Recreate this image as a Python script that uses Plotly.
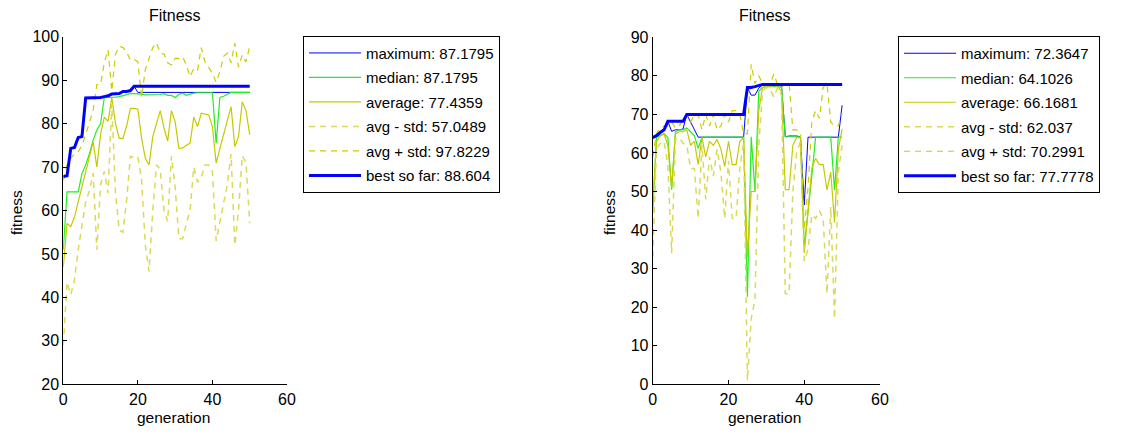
import plotly.graph_objects as go

gen = list(range(51))

# ---------------- left run ----------------
L_max = [67.8, 68.0, 74.3, 74.5, 76.8, 77.0, 85.9, 85.9, 85.9, 85.9,
         86.0, 86.2, 86.4, 86.8, 86.8, 86.9, 87.4, 87.4, 87.6, 88.604,
         87.1795, 87.1795, 87.1795, 87.1795, 87.1795, 87.1795, 87.1795, 87.1795, 87.1795, 87.1795,
         87.1795, 87.1795, 87.1795, 87.1795, 87.1795, 87.1795, 87.1795, 87.1795, 87.1795, 87.1795,
         87.1795, 87.1795, 87.1795, 87.1795, 87.1795, 87.1795, 87.1795, 87.1795, 87.1795, 87.1795, 87.1795]
L_med = [51.0, 64.3, 64.3, 64.3, 64.3, 68.5, 70.5, 73.0, 76.2, 78.5,
         80.0, 86.0, 86.0, 86.0, 86.1, 86.2, 86.4, 86.7, 86.9, 86.9,
         86.9, 86.8, 86.6, 86.6, 86.6, 86.6, 86.7, 86.9, 86.5, 86.5,
         86.0, 86.7, 87.0, 86.5, 86.8, 87.0, 87.1, 87.1, 87.1, 87.1,
         87.1, 75.5, 86.0, 86.3, 86.8, 87.1795, 87.1795, 87.1795, 87.1795, 87.1795, 87.1795]
L_avg = [47.0, 57.0, 56.3, 58.5, 62.0, 65.5, 69.0, 72.0, 75.8, 70.0,
         77.5, 81.5, 80.5, 86.0, 80.0, 76.6, 76.6, 79.5, 83.5, 83.5,
         83.3, 76.6, 72.0, 70.5, 77.0, 80.0, 83.0, 79.0, 76.0, 83.0,
         80.4, 74.3, 74.4, 75.0, 75.5, 81.5, 79.3, 82.4, 82.2, 82.0,
         79.3, 70.9, 74.3, 77.5, 80.8, 83.9, 74.7, 77.0, 85.0, 83.0, 77.4359]
L_lo = [29.0, 43.5, 40.6, 44.0, 51.0, 56.0, 62.0, 64.5, 68.6, 51.0,
        66.0, 69.0, 64.0, 84.5, 64.0, 55.5, 55.0, 62.5, 72.5, 72.2,
        72.4, 67.0, 52.0, 46.0, 60.0, 70.5, 69.5, 60.0, 57.5, 72.5,
        65.5, 53.5, 53.5, 57.0, 60.0, 70.0, 66.5, 67.5, 70.5, 70.5,
        68.9, 53.0, 57.0, 61.7, 66.0, 73.0, 52.0, 60.0, 72.6, 71.0, 57.0489]
L_up = [67.0, 70.5, 72.0, 73.0, 73.5, 75.0, 77.5, 80.0, 83.0, 89.0,
        89.0, 94.0, 97.0, 87.5, 96.0, 97.8, 97.5, 96.5, 94.6, 94.8,
        94.2, 86.0, 92.5, 95.0, 97.5, 98.6, 96.2, 96.0, 94.0, 93.5,
        95.0, 95.0, 95.4, 93.5, 90.8, 92.7, 92.3, 97.5, 94.2, 93.0,
        91.5, 89.5, 92.0, 95.5, 96.2, 94.0, 98.5, 93.0, 95.8, 94.2, 97.8229]
L_best = [67.8, 68.0, 74.3, 74.5, 76.8, 77.0, 85.9, 85.9, 85.9, 85.9,
          86.0, 86.2, 86.4, 86.8, 86.8, 86.9, 87.4, 87.4, 87.6, 88.604,
          88.604, 88.604, 88.604, 88.604, 88.604, 88.604, 88.604, 88.604, 88.604, 88.604,
          88.604, 88.604, 88.604, 88.604, 88.604, 88.604, 88.604, 88.604, 88.604, 88.604,
          88.604, 88.604, 88.604, 88.604, 88.604, 88.604, 88.604, 88.604, 88.604, 88.604, 88.604]
L_names = ["maximum: 87.1795", "median: 87.1795", "average: 77.4359",
           "avg - std: 57.0489", "avg + std: 97.8229", "best so far: 88.604"]

# ---------------- right run ----------------
R_max = [64.0, 64.5, 65.3, 66.0, 68.2, 65.6, 66.0, 66.0, 66.2, 70.0,
         68.0, 66.0, 64.1, 64.1, 64.1, 64.1, 64.1, 64.1, 64.1, 64.1,
         64.1, 64.1, 64.1, 64.1, 64.1, 77.0, 75.0, 75.0, 76.8, 77.7,
         77.7, 77.7, 77.7, 77.5, 77.4, 64.2, 64.4, 64.4, 64.4, 64.2,
         46.5, 64.1, 64.1, 64.1, 64.1, 64.1, 64.1, 64.1, 64.1, 64.1, 72.3647]
R_med = [44.5, 64.1, 64.5, 65.0, 64.0, 50.5, 65.5, 66.0, 66.0, 66.5,
         65.5, 64.5, 61.2, 64.1, 64.1, 64.1, 64.1, 64.1, 64.1, 64.1,
         64.1, 64.1, 64.1, 64.1, 64.1, 22.7, 64.2, 50.0, 76.0, 77.0,
         77.2, 77.2, 77.2, 77.2, 77.0, 64.2, 64.2, 64.2, 64.2, 64.2,
         35.5, 44.0, 54.0, 64.1, 64.1, 64.1, 64.1, 64.1, 50.4, 64.1, 64.1026]
R_avg = [46.0, 63.0, 64.5, 65.0, 62.0, 51.0, 65.0, 65.5, 65.5, 66.0,
         62.0, 63.0, 57.0, 64.0, 59.0, 63.0, 62.0, 63.5, 61.0, 56.5,
         63.0, 57.0, 57.0, 63.0, 64.0, 33.0, 50.0, 50.0, 71.0, 77.0,
         77.2, 77.2, 77.5, 77.2, 76.0, 50.5, 50.5, 62.0, 64.0, 64.0,
         34.0, 45.0, 56.0, 58.6, 57.0, 57.0, 50.4, 55.0, 42.0, 61.0, 66.1681]
R_lo = [33.0, 61.0, 62.5, 63.0, 57.0, 34.0, 63.5, 64.0, 62.5, 62.0,
        56.0, 56.0, 43.0, 62.0, 48.0, 59.0, 54.0, 61.0, 55.0, 43.0,
        58.0, 43.0, 43.0, 56.0, 63.0, 1.0, 17.0, 22.0, 62.0, 76.0,
        77.0, 76.5, 74.5, 77.0, 75.0, 23.5, 23.5, 50.0, 60.0, 63.0,
        32.0, 35.0, 44.0, 43.0, 45.0, 43.0, 23.5, 46.0, 17.0, 55.0, 62.037]
R_up = [59.0, 65.0, 66.5, 67.0, 67.0, 68.0, 66.5, 67.0, 68.5, 70.0,
        68.0, 70.0, 70.0, 66.0, 70.0, 67.0, 70.0, 66.0, 67.0, 70.0,
        68.0, 71.0, 71.0, 70.0, 65.0, 65.0, 83.0, 78.0, 80.0, 78.0,
        77.5, 78.0, 80.5, 77.5, 77.0, 78.0, 78.0, 66.0, 66.0, 65.0,
        40.0, 51.0, 68.0, 71.0, 69.0, 77.0, 78.0, 68.0, 67.0, 67.0, 70.2991]
R_best = [64.0, 64.5, 65.3, 66.0, 68.2, 68.2, 68.2, 68.2, 68.2, 70.0,
          70.0, 70.0, 70.0, 70.0, 70.0, 70.0, 70.0, 70.0, 70.0, 70.0,
          70.0, 70.0, 70.0, 70.0, 70.0, 77.0, 77.0, 77.2, 77.5, 77.7778,
          77.7778, 77.7778, 77.7778, 77.7778, 77.7778, 77.7778, 77.7778, 77.7778, 77.7778, 77.7778,
          77.7778, 77.7778, 77.7778, 77.7778, 77.7778, 77.7778, 77.7778, 77.7778, 77.7778, 77.7778, 77.7778]
R_names = ["maximum: 72.3647", "median: 64.1026", "average: 66.1681",
           "avg - std: 62.037", "avg + std: 70.2991", "best so far: 77.7778"]

x_ticks = [0, 20, 40, 60]
L_yticks = [20, 30, 40, 50, 60, 70, 80, 90, 100]
R_yticks = [0, 10, 20, 30, 40, 50, 60, 70, 80, 90]

styles = [
    dict(color="#0000ff", width=1),
    dict(color="#22ee22", width=1.2),
    dict(color="#c8c800", width=1.2),
    dict(color="#dada5a", width=1.5, dash="6px,5px"),
    dict(color="#cccc00", width=1.2, dash="6px,5px"),
    dict(color="#0000ff", width=3),
]

fig = go.Figure()
for series, names, xa, ya, leg in [
    ([L_max, L_med, L_avg, L_lo, L_up, L_best], L_names, "x", "y", "legend"),
    ([R_max, R_med, R_avg, R_lo, R_up, R_best], R_names, "x2", "y2", "legend2"),
]:
    for i, (vals, name) in enumerate(zip(series, names)):
        fig.add_trace(go.Scatter(
            x=gen, y=vals, mode="lines", name=name, line=styles[i],
            xaxis=xa, yaxis=ya, legend=leg, legendgroup=f"{leg}_{i}",
            hoverinfo="skip"))

font_family = "Liberation Sans, Arial, sans-serif"
ax_common = dict(showline=True, linecolor="black", linewidth=1, ticks="inside",
                 ticklen=4, tickcolor="black", showgrid=False, zeroline=False,
                 automargin=False, tickfont=dict(size=16, color="black"))

# the page body has an 8px margin: figure is sized so it fills the window exactly
OFF = 8.0
W = 1106.0
H = 421.0


def px(X):
    return (X - OFF) / W


def py(Y):
    return (H + OFF - Y) / H


fig.update_layout(
    width=int(W), height=int(H),
    margin=dict(l=0, r=0, t=0, b=0, autoexpand=False),
    paper_bgcolor="white", plot_bgcolor="white",
    font=dict(family=font_family, size=15, color="black"),
    xaxis=dict(domain=[px(63.3), px(287.0)], range=[0, 60], tickvals=x_ticks, anchor="y", **ax_common),
    yaxis=dict(domain=[py(384.3), py(36.7)], range=[20, 100], tickvals=L_yticks, anchor="x", **ax_common),
    xaxis2=dict(domain=[px(652.7), px(880.0)], range=[0, 60], tickvals=x_ticks, anchor="y2", **ax_common),
    yaxis2=dict(domain=[py(384.3), py(37.3)], range=[0, 90], tickvals=R_yticks, anchor="x2", **ax_common),
    legend=dict(x=px(303), y=py(35.7), xanchor="left", yanchor="top",
                bordercolor="black", borderwidth=1, bgcolor="white",
                itemwidth=52, tracegroupgap=2, font=dict(size=15, color="black")),
    legend2=dict(x=px(898), y=py(36), xanchor="left", yanchor="top",
                 bordercolor="black", borderwidth=1, bgcolor="white",
                 itemwidth=52, tracegroupgap=2, font=dict(size=15, color="black")),
    showlegend=True,
)

ann = [
    dict(text="Fitness", x=px(175.2), y=py(16), size=16),
    dict(text="Fitness", x=px(764.7), y=py(16), size=16),
    dict(text="generation", x=px(173.7), y=py(417), size=15.5),
    dict(text="generation", x=px(764.5), y=py(417), size=15.5),
    dict(text="fitness", x=px(16.5), y=py(212.5), size=15.5, textangle=-90),
    dict(text="fitness", x=px(610), y=py(213), size=15.5, textangle=-90),
]
for a in ann:
    size = a.pop("size")
    fig.add_annotation(xref="paper", yref="paper", showarrow=False,
                       xanchor="center", yanchor="middle",
                       font=dict(size=size, color="black", family=font_family), **a)

fig.write_html("out.html")
